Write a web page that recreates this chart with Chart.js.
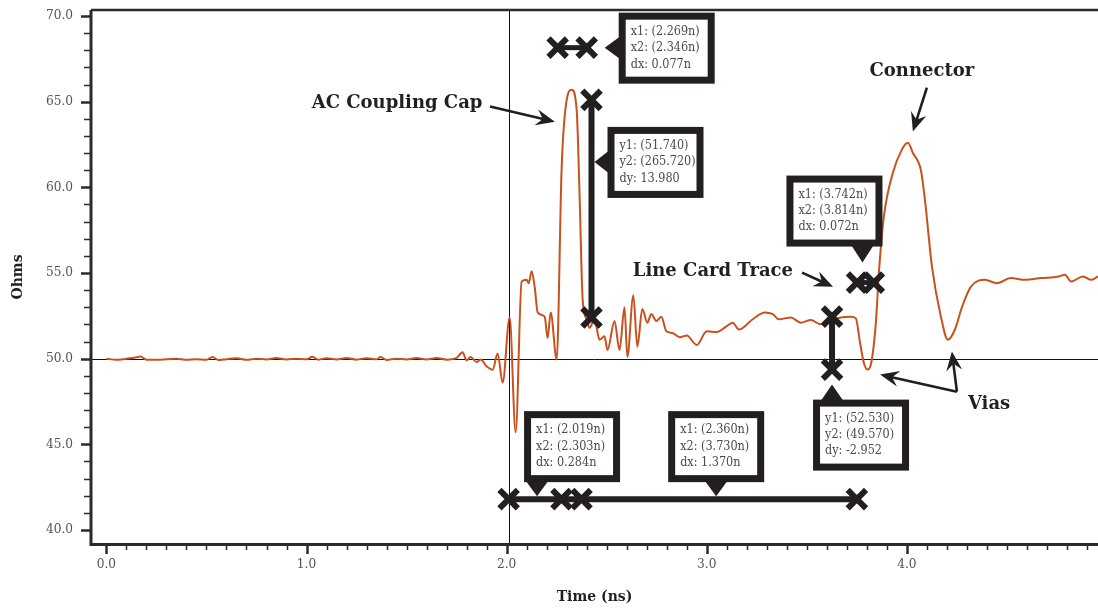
<!DOCTYPE html>
<html><head><meta charset="utf-8">
<script src="https://cdn.jsdelivr.net/npm/chart.js@4/dist/chart.umd.min.js"></script>
<style>html,body{margin:0;padding:0;background:#fff;}canvas{display:block;}</style>
</head><body>
<canvas id="c" width="1098" height="609"></canvas>
<script>
// ---- DATA ----
const timeNs = [
  0.00,0.05,0.10,0.14,0.17,0.20,0.25,0.30,0.35,0.40,
  0.45,0.50,0.53,0.56,0.60,0.65,0.70,0.75,0.80,0.85,
  0.90,0.95,1.00,1.03,1.06,1.10,1.15,1.20,1.25,1.30,
  1.35,1.37,1.40,1.45,1.50,1.55,1.60,1.65,1.70,1.75,
  1.78,1.80,1.82,1.85,1.87,1.90,1.93,1.955,1.98,2.015,
  2.045,2.075,2.10,2.11,2.125,2.14,2.155,2.19,2.205,2.22,
  2.25,2.275,2.30,2.325,2.35,2.365,2.38,2.40,2.414,2.439,
  2.464,2.489,2.504,2.539,2.564,2.589,2.603,2.633,2.653,2.678,
  2.703,2.723,2.748,2.773,2.798,2.828,2.865,2.90,2.95,3.00,
  3.05,3.10,3.13,3.16,3.23,3.29,3.33,3.36,3.42,3.47,
  3.52,3.57,3.62,3.67,3.72,3.745,3.765,3.785,3.805,3.825,
  3.845,3.86,3.885,3.93,3.975,4.005,4.03,4.07,4.09,4.125,
  4.17,4.205,4.24,4.275,4.32,4.39,4.45,4.52,4.59,4.67,
  4.76,4.79,4.82,4.88,4.92,4.955
];
const ohms = [
  50.00,49.93,50.00,50.05,50.12,49.94,49.93,49.96,50.00,49.94,
  49.97,49.94,50.10,49.92,49.97,50.03,49.93,50.00,49.95,50.04,
  49.95,50.00,49.96,50.11,49.94,50.03,49.95,50.04,49.94,50.03,
  49.96,50.10,49.92,50.00,49.95,50.04,49.95,50.04,49.94,50.04,
  50.37,49.90,50.10,49.80,49.95,49.55,49.35,50.30,48.60,52.40,
  45.70,54.50,54.60,54.40,55.10,54.20,52.70,52.45,51.20,52.70,
  49.95,61.20,65.10,65.70,64.50,59.30,53.40,52.30,51.80,52.30,
  51.10,51.30,50.50,52.20,50.50,53.00,50.10,53.70,50.70,52.90,
  52.10,52.60,52.20,52.45,51.60,51.50,51.25,51.35,50.80,51.60,
  51.55,51.90,52.10,51.70,52.30,52.70,52.60,52.30,52.40,52.10,
  52.25,52.00,52.20,52.40,52.45,52.35,51.00,49.75,49.36,49.95,
  52.10,55.00,58.30,60.85,62.20,62.60,62.00,61.00,59.30,55.40,
  52.45,51.10,51.70,53.00,54.20,54.60,54.40,54.70,54.60,54.70,
  54.80,54.90,54.50,54.80,54.60,54.80
];
const xTickValues = [0, 1, 2, 3, 4];
const yTickValues = [40, 45, 50, 55, 60, 65, 70];
const cursorX = 2.01;
const cursorY = 50.0;

// measurement markers
const capPairX = [2.255, 2.400];   const capPairY = [68.15, 68.15];
const capPeakX = [2.424, 2.424];   const capPeakY = [65.10, 52.40];
const spanX = [2.010, 2.274, 2.374, 3.750]; const spanY = [41.80, 41.80, 41.80, 41.80];
const tracePairX = [3.751, 3.835]; const tracePairY = [54.44, 54.44];
const viaDropX = [3.626, 3.626];   const viaDropY = [52.45, 49.36];

// readout texts
const readCapPair = ['x1: (2.269n)', 'x2: (2.346n)', 'dx: 0.077n'];
const readCapPeak = ['y1: (51.740)', 'y2: (265.720)', 'dy: 13.980'];
const readSpanA = ['x1: (2.019n)', 'x2: (2.303n)', 'dx: 0.284n'];
const readSpanB = ['x1: (2.360n)', 'x2: (3.730n)', 'dx: 1.370n'];
const readTracePair = ['x1: (3.742n)', 'x2: (3.814n)', 'dx: 0.072n'];
const readViaDrop = ['y1: (52.530)', 'y2: (49.570)', 'dy: -2.952'];

const noteLabels = ['AC Coupling Cap', 'Line Card Trace', 'Connector', 'Vias'];

// ---- STYLE ----
const INK = '#231f20';
const TRACE = '#c8511d';
const TICKFONT = "'DejaVu Serif Condensed', 'DejaVu Serif', serif";
const BOLDFONT = "'DejaVu Serif', serif";

function pts(xs, ys) { return xs.map((v, i) => ({ x: v, y: ys[i] })); }
function markerSet(xs, ys, lw) {
  return {
    data: pts(xs, ys), showLine: true, borderColor: INK, borderWidth: lw,
    pointStyle: 'crossRot', pointRadius: 13, pointHoverRadius: 13,
    pointBorderWidth: 6, pointHoverBorderWidth: 6,
    pointBorderColor: INK, pointBackgroundColor: INK, tension: 0, order: 0
  };
}

function arrow(ctx, x0, y0, x1, y1) {
  const a = Math.atan2(y1 - y0, x1 - x0), c = Math.cos(a), s = Math.sin(a);
  const L = 19, W = 8;
  ctx.strokeStyle = INK; ctx.fillStyle = INK; ctx.lineWidth = 2.6;
  ctx.beginPath(); ctx.moveTo(x0, y0); ctx.lineTo(x1 - 12 * c, y1 - 12 * s); ctx.stroke();
  ctx.beginPath();
  ctx.moveTo(x1, y1);
  ctx.lineTo(x1 - L * c + W * s, y1 - L * s - W * c);
  ctx.lineTo(x1 - L * 0.65 * c, y1 - L * 0.65 * s);
  ctx.lineTo(x1 - L * c - W * s, y1 - L * s + W * c);
  ctx.closePath(); ctx.fill();
}

function callout(ctx, bx, by, side, tx, ty, lines) {
  const w = 96, h = 71, b = 7;
  ctx.fillStyle = INK;
  ctx.fillRect(bx, by, w, h);
  ctx.beginPath();
  if (side === 'left') { ctx.moveTo(bx + 1, ty - 11); ctx.lineTo(tx, ty); ctx.lineTo(bx + 1, ty + 11); }
  else if (side === 'bottom') { ctx.moveTo(tx - 11, by + h - 1); ctx.lineTo(tx, ty); ctx.lineTo(tx + 11, by + h - 1); }
  else { ctx.moveTo(tx - 11, by + 1); ctx.lineTo(tx, ty); ctx.lineTo(tx + 11, by + 1); }
  ctx.closePath(); ctx.fill();
  ctx.fillStyle = '#fff';
  ctx.fillRect(bx + b, by + b, w - 2 * b, h - 2 * b);
  ctx.fillStyle = '#4a4a4a';
  ctx.font = "12.5px " + TICKFONT;
  ctx.textAlign = 'left'; ctx.textBaseline = 'middle';
  lines.forEach((t, i) => ctx.fillText(t, bx + 12, by + 19 + i * 16.3));
}

const overlay = {
  id: 'overlay',
  beforeDatasetsDraw(chart) {
    const { ctx, chartArea: a, scales: { x, y } } = chart;
    ctx.save();
    ctx.strokeStyle = '#111'; ctx.lineWidth = 1;
    const cx = Math.round(x.getPixelForValue(cursorX)) + 0.5;
    const cy = Math.round(y.getPixelForValue(cursorY)) + 0.5;
    ctx.beginPath();
    ctx.moveTo(cx, a.top); ctx.lineTo(cx, a.bottom);
    ctx.moveTo(a.left, cy); ctx.lineTo(a.right, cy);
    ctx.stroke();
    ctx.restore();
  },
  afterDatasetsDraw(chart) {
    const { ctx, scales: { x, y } } = chart;
    const X = v => x.getPixelForValue(v), Y = v => y.getPixelForValue(v);
    ctx.save();
    // callouts
    let mx = X(capPairX[1]), my = Y(capPairY[1]);
    callout(ctx, mx + 32, my - 35, 'left', mx + 18, my, readCapPair);
    let lx = X(capPeakX[0]), ty = Y(capPeakY[0]);
    callout(ctx, lx + 16, ty + 27, 'left', lx + 3, ty + 62, readCapPeak);
    const ly = Y(spanY[0]);
    let tA = (X(spanX[0]) + X(spanX[1])) / 2 + 2;
    callout(ctx, tA - 13, ly - 88, 'bottom', tA, ly - 3, readSpanA);
    let tB = (X(spanX[2]) + X(spanX[3])) / 2 - 3;
    callout(ctx, tB - 48, ly - 88, 'bottom', tB, ly - 3, readSpanB);
    let tP = (X(tracePairX[0]) + X(tracePairX[1])) / 2 - 3, pY = Y(tracePairY[0]);
    callout(ctx, tP - 76, pY - 107, 'bottom', tP, pY - 20, readTracePair);
    let vx = X(viaDropX[1]), vy = Y(viaDropY[1]);
    callout(ctx, vx - 19, vy + 30, 'top', vx, vy + 15, readViaDrop);

    // notes
    ctx.fillStyle = INK;
    ctx.font = "bold 18px " + BOLDFONT;
    ctx.textBaseline = 'middle';
    ctx.textAlign = 'right';
    ctx.fillText(noteLabels[0], X(1.879), Y(64.88));
    ctx.fillText(noteLabels[1], X(3.431), Y(55.08));
    ctx.textAlign = 'center';
    ctx.fillText(noteLabels[2], X(4.075), Y(66.75));
    ctx.textAlign = 'left';
    ctx.fillText(noteLabels[3], X(4.305), Y(47.32));

    arrow(ctx, X(1.917), Y(64.71), X(2.241), Y(63.83));
    arrow(ctx, X(3.476), Y(55.02), X(3.631), Y(54.20));
    arrow(ctx, X(4.100), Y(65.82), X(4.030), Y(63.25));
    arrow(ctx, X(4.250), Y(48.07), X(3.866), Y(49.07));
    arrow(ctx, X(4.250), Y(48.07), X(4.225), Y(50.41));
    ctx.restore();
  },
  afterDraw(chart) {
    const { ctx, chartArea: a, scales: { x, y } } = chart;
    ctx.save();
    ctx.strokeStyle = '#2b2b2b';
    // frame
    ctx.lineWidth = 3;
    ctx.beginPath();
    ctx.moveTo(a.left, a.top - 1); ctx.lineTo(a.left, a.bottom + 1.5);
    ctx.lineTo(a.right, a.bottom + 1.5);
    ctx.stroke();
    ctx.lineWidth = 2.5;
    ctx.beginPath(); ctx.moveTo(a.left, a.top - 1); ctx.lineTo(a.right, a.top - 1); ctx.stroke();
    // y ticks
    for (let v = 40; v <= 70; v += 1) {
      const p = Math.round(y.getPixelForValue(v)) + 0.5;
      const major = v % 5 === 0;
      ctx.lineWidth = major ? 2.5 : 1.5;
      ctx.beginPath(); ctx.moveTo(a.left - 1, p); ctx.lineTo(a.left - (major ? 10 : 7), p); ctx.stroke();
    }
    // x ticks
    for (let k = 0; k <= 49; k++) {
      const v = k / 10;
      const p = Math.round(x.getPixelForValue(v)) + 0.5;
      const major = k % 10 === 0;
      ctx.lineWidth = major ? 2.5 : 1.5;
      ctx.beginPath(); ctx.moveTo(p, a.bottom + 2); ctx.lineTo(p, a.bottom + (major ? 11 : 7)); ctx.stroke();
    }
    ctx.restore();
  }
};

new Chart(document.getElementById('c'), {
  type: 'scatter',
  data: {
    datasets: [
      markerSet(capPairX, capPairY, 5),
      markerSet(capPeakX, capPeakY, 6),
      markerSet(spanX, spanY, 6),
      markerSet(tracePairX, tracePairY, 5),
      markerSet(viaDropX, viaDropY, 6),
      {
        data: pts(timeNs, ohms), showLine: true, borderColor: TRACE, borderWidth: 2,
        pointRadius: 0, pointHoverRadius: 0, cubicInterpolationMode: 'monotone', order: 1
      }
    ]
  },
  options: {
    responsive: false, animation: false, devicePixelRatio: 1,
    layout: { autoPadding: false, padding: { top: 11, left: 0, right: 0, bottom: 0 } },
    plugins: { legend: { display: false }, tooltip: { enabled: false } },
    events: [],
    scales: {
      x: {
        type: 'linear', min: -0.077, max: 4.955,
        afterBuildTicks: s => { s.ticks = xTickValues.map(v => ({ value: v })); },
        afterFit: s => { s.height = 66; s.paddingLeft = 0; s.paddingRight = 0; },
        ticks: { callback: v => Number(v).toFixed(1), color: '#555', padding: 13, maxRotation: 0, autoSkip: false,
                 font: { family: TICKFONT, size: 13.5 } },
        grid: { display: false, drawTicks: false, tickLength: 0 },
        border: { display: false },
        title: { display: true, text: 'Time (ns)', color: INK, font: { family: BOLDFONT, weight: 'bold', size: 14 },
                 padding: { top: 0, bottom: 3 } }
      },
      y: {
        type: 'linear', min: 39.24, max: 70.29,
        afterBuildTicks: s => { s.ticks = yTickValues.map(v => ({ value: v })); },
        afterFit: s => { s.width = 91; s.paddingTop = 0; s.paddingBottom = 0; },
        ticks: { callback: v => Number(v).toFixed(1), color: '#555', padding: 18, autoSkip: false,
                 font: { family: TICKFONT, size: 13.5 } },
        grid: { display: false, drawTicks: false, tickLength: 0 },
        border: { display: false },
        title: { display: true, text: 'Ohms', color: INK, font: { family: BOLDFONT, weight: 'bold', size: 14 },
                 padding: { top: 10, bottom: 0 } }
      }
    }
  },
  plugins: [overlay]
});
</script>
</body></html>
